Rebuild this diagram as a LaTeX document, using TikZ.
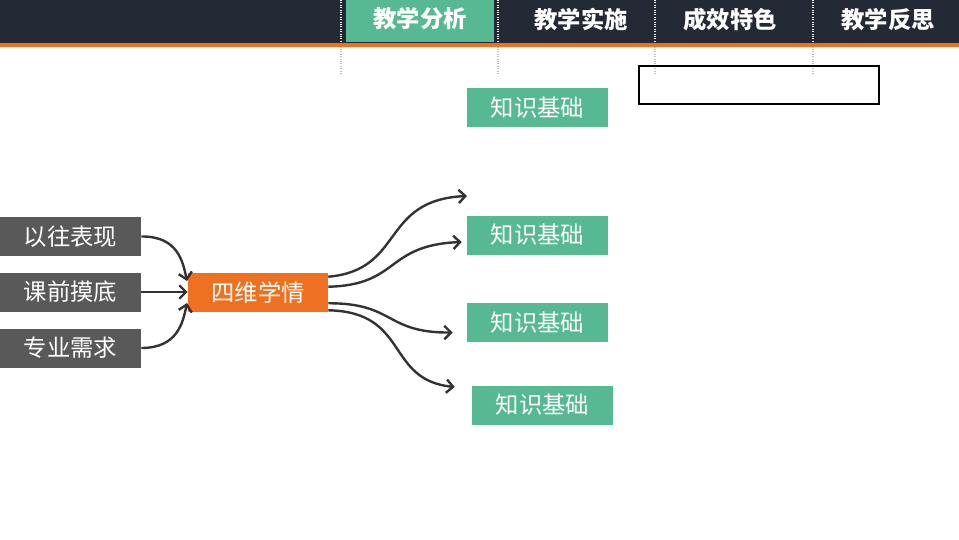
\documentclass[tikz,border=0pt]{standalone}
\usepackage{xcolor}
\usepackage{fontspec}
\usepackage{tikz}
\usetikzlibrary{arrows.meta,positioning,calc}
\newfontfamily\cjk{Noto Sans CJK SC}
\definecolor{barnavy}{RGB}{35,42,54}
\definecolor{accentorange}{RGB}{238,112,33}
\definecolor{tabgreen}{RGB}{87,185,148}
\definecolor{boxgray}{RGB}{89,89,89}
\definecolor{arrowgray}{RGB}{51,51,51}

\begin{document}
\begin{tikzpicture}[
    x=0.75pt, y=-0.75pt,
    tab/.style={font=\cjk\bfseries\fontsize{17.5pt}{20pt}\selectfont, text=white, inner sep=0pt},
    factor/.style={rectangle, fill=boxgray, text=white, minimum width=105.75pt, minimum height=29.25pt, inner sep=0pt, font=\cjk\fontsize{17.5pt}{20pt}\selectfont},
    hub/.style={factor, fill=accentorange, minimum width=105pt},
    basis/.style={factor, fill=tabgreen},
    sep/.style={white, densely dotted, line width=0.8pt},
    sepbelow/.style={black!25, densely dotted, line width=0.8pt},
    flow/.style={arrowgray, line width=1.8pt, -{Straight Barb[length=5pt,width=10pt]}}
]
\useasboundingbox (0,0) rectangle (959,539);

% Top bar
\fill[barnavy] (0,0) rectangle (959,43);
\fill[accentorange] (0,43) rectangle (959,46.5);
\fill[tabgreen] (346,0) rectangle (494,42);

% Tab separators
\foreach \sx in {341,498,655,813} {
    \draw[sep] (\sx,0) -- (\sx,43);
    \draw[sepbelow] (\sx,46.5) -- (\sx,73);
}

% Tabs
\node[tab] (t1) at (420,19) {教学分析};
\node[tab] (t2) at (581,20) {教学实施};
\node[tab] (t3) at (730,20) {成效特色};
\node[tab] (t4) at (888,20) {教学反思};

% Empty frame
\node[draw=black, line width=1.5pt, minimum width=180pt, minimum height=28.5pt, inner sep=0pt] (blank) at (758.5,85) {};

% Inputs
\node[factor] (f1) at (70.5,236.5) {以往表现};
\node[factor] (f2) at (70.5,292) {课前摸底};
\node[factor] (f3) at (70.5,348) {专业需求};

% Hub
\node[hub] (xq) at (258,292.5) {四维学情};

% Outputs
\node[basis] (k1) at (537.5,107.5) {知识基础};
\node[basis] (k2) at (537.5,235) {知识基础};
\node[basis] (k3) at (537.5,322.5) {知识基础};
\node[basis] (k4) at (542.5,405) {知识基础};
\coordinate (free) at (467,196);

% Inputs to hub
\draw[flow] (f1.east) .. controls (178,236) and (183,262) .. (187,281);
\draw[flow] (f2.east) -- (xq.west |- f2.east);
\draw[flow] (f3.east) .. controls (178,348) and (183,322) .. (187,303);

% Hub to outputs
\draw[flow] ($(xq.north east)+(0,4)$) .. controls (405,270) and (380,200) .. (free);
\draw[flow] ($(xq.north east)+(0,14)$) .. controls (400,285) and (385,245) .. ($(k2.west)+(-5,7)$);
\draw[flow] ($(xq.south east)+(0,-9)$) .. controls (395,303) and (385,333) .. ($(k3.west)+(-14,10)$);
\draw[flow] ($(xq.south east)+(0,-2)$) .. controls (410,312) and (385,380) .. ($(k4.west)+(-17,-18)$);

\end{tikzpicture}
\end{document}
